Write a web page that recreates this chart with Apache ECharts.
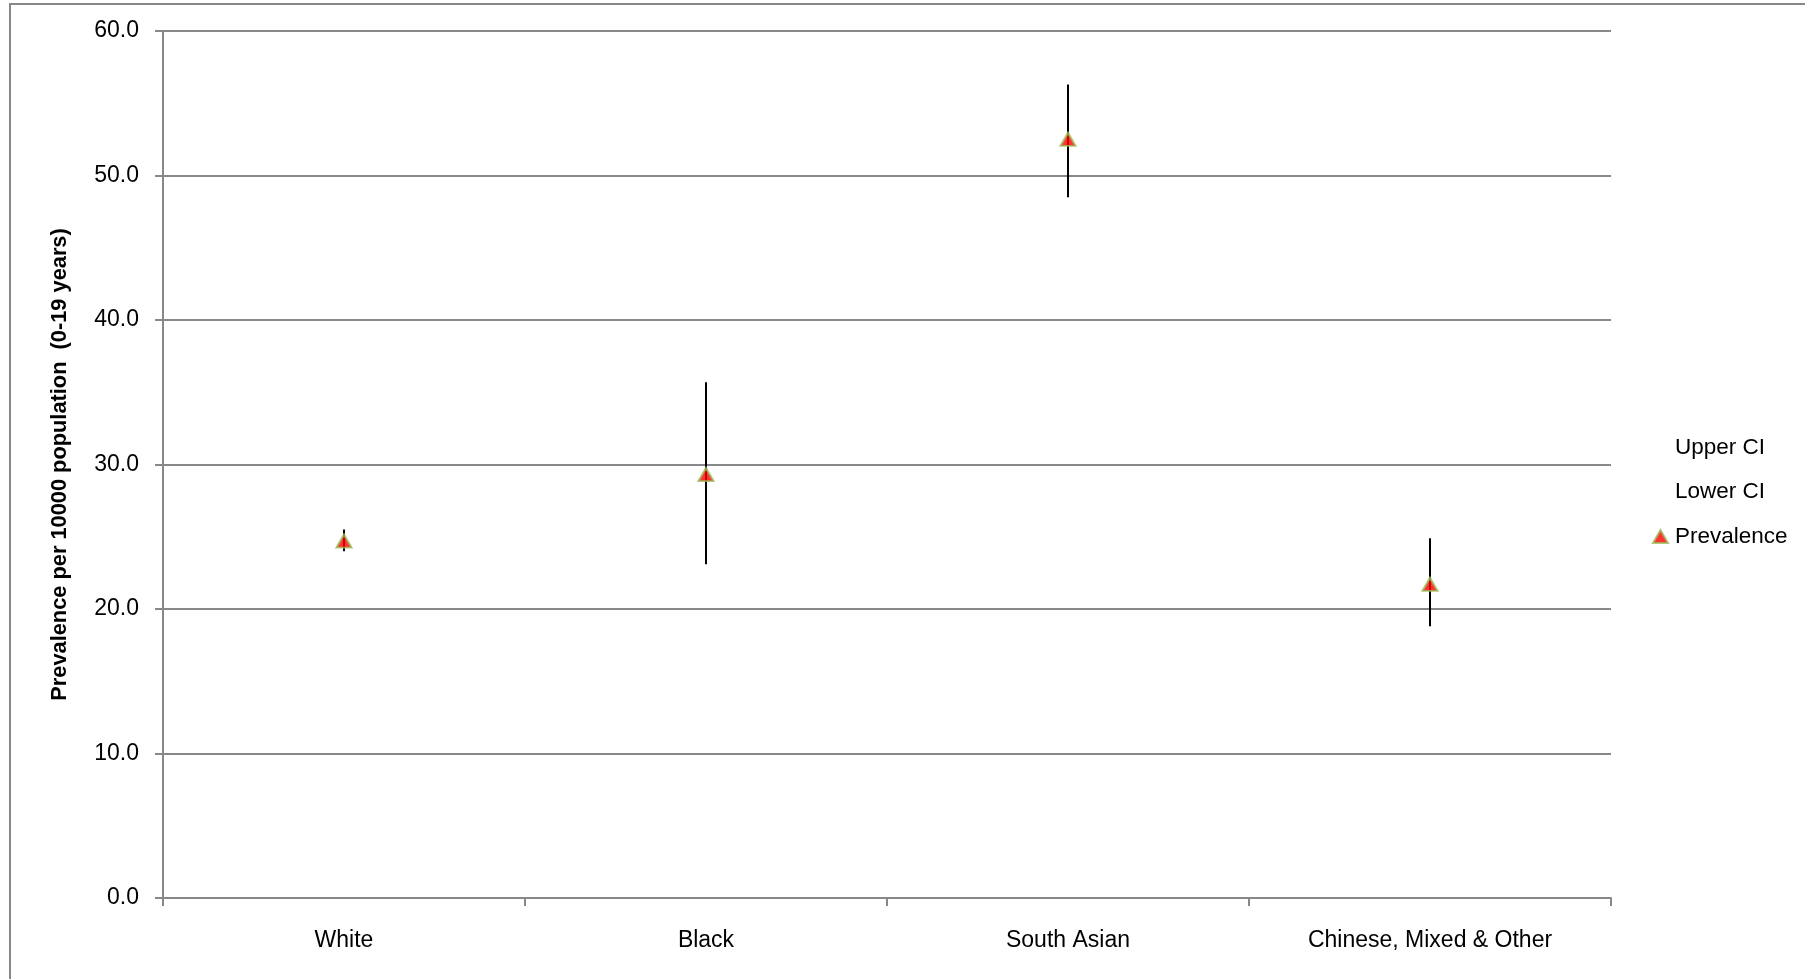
<!DOCTYPE html>
<html>
<head>
<meta charset="utf-8">
<script src="https://cdn.jsdelivr.net/npm/echarts@6/dist/echarts.min.js"></script>
<style>
html,body{margin:0;padding:0;background:#fff;}
#chart{width:1805px;height:979px;}
</style>
</head>
<body>
<div id="chart"></div>
<script>
const categories = ['White', 'Black', 'South Asian', 'Chinese, Mixed & Other'];
const upperCI = [25.5, 35.7, 56.3, 24.9];
const lowerCI = [24.0, 23.1, 48.5, 18.8];
const prevalence = [24.7, 29.3, 52.5, 21.7];
const yTicks = [0, 10, 20, 30, 40, 50, 60];

const FONT = '"Liberation Sans", Arial, sans-serif';
const chart = echarts.init(document.getElementById('chart'));

const ciData = categories.map((c, i) => [i, lowerCI[i], upperCI[i]]);

chart.setOption({
  animation: false,
  textStyle: { fontFamily: FONT, color: '#000' },
  graphic: [{
    type: 'rect',
    shape: { x: 10, y: 4, width: 1900, height: 1100 },
    style: { fill: 'none', stroke: '#888', lineWidth: 2 },
    silent: true, z: -10
  }],
  grid: { left: 163, top: 31, right: 194, bottom: 81 },
  legend: {
    orient: 'vertical',
    left: 1647,
    top: 431,
    itemWidth: 15,
    itemHeight: 13,
    itemGap: 21.5,
    textStyle: { fontFamily: FONT, fontSize: 22.5, color: '#000', padding: [0, 0, 0, 2] },
    data: [
      { name: 'Upper CI', icon: 'rect', itemStyle: { opacity: 0 } },
      { name: 'Lower CI', icon: 'rect', itemStyle: { opacity: 0 } },
      { name: 'Prevalence', icon: 'triangle' }
    ]
  },
  xAxis: {
    type: 'category',
    data: categories,
    boundaryGap: true,
    axisLine: { lineStyle: { color: '#888', width: 2 } },
    axisTick: { show: true, length: 8, lineStyle: { color: '#888', width: 2 } },
    axisLabel: { fontFamily: FONT, fontSize: 23, color: '#000', margin: 31 }
  },
  yAxis: {
    type: 'value',
    min: 0, max: 60, interval: 10,
    name: 'Prevalence per 10000 population  (0-19 years)',
    nameLocation: 'middle',
    nameGap: 92,
    nameTextStyle: { fontFamily: FONT, fontSize: 21.8, fontWeight: 'bold', color: '#000' },
    axisLine: { show: true, lineStyle: { color: '#888', width: 2 } },
    axisTick: { show: true, length: 8, lineStyle: { color: '#888', width: 2 } },
    splitLine: { lineStyle: { color: '#888', width: 2 } },
    axisLabel: {
      fontFamily: FONT, fontSize: 23, color: '#000', margin: 24,
      padding: [3, 0, 0, 0],
      formatter: v => yTicks.includes(v) ? v.toFixed(1) : ''
    }
  },
  series: [
    {
      name: 'Upper CI', type: 'scatter', symbol: 'none', data: upperCI, silent: true
    },
    {
      name: 'Lower CI', type: 'scatter', symbol: 'none', data: lowerCI, silent: true
    },
    {
      name: 'CI bars', type: 'custom', data: ciData, z: 3,
      renderItem: function (params, api) {
        const lo = api.coord([api.value(0), api.value(1)]);
        const hi = api.coord([api.value(0), api.value(2)]);
        return {
          type: 'line',
          shape: { x1: lo[0], y1: lo[1], x2: hi[0], y2: hi[1] },
          style: { stroke: '#000', lineWidth: 2 }
        };
      }
    },
    {
      name: 'Prevalence', type: 'scatter', symbol: 'triangle', symbolSize: [15, 13],
      data: prevalence, z: 5,
      itemStyle: { color: '#FF0000', borderColor: '#9BBB59', borderWidth: 2 }
    }
  ]
});
</script>
</body>
</html>
